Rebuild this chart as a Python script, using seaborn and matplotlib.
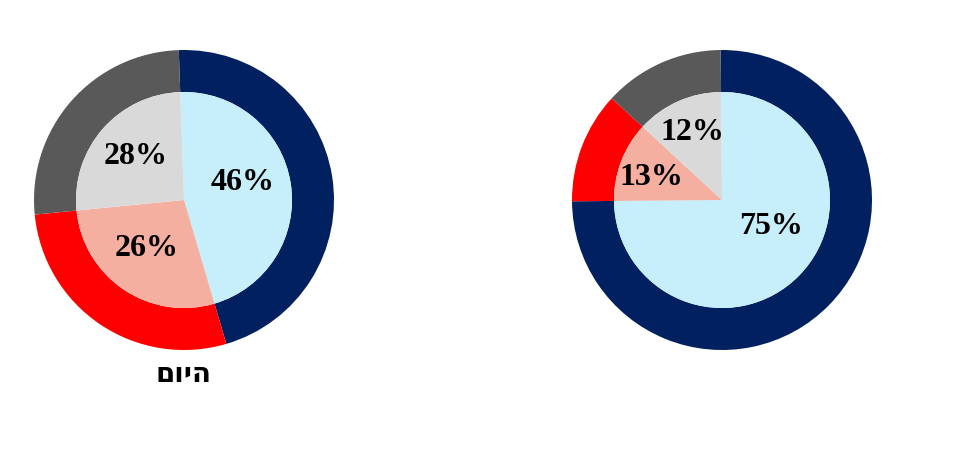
"""Two nested pie charts: outer ring and inner pie per scenario."""

import matplotlib.pyplot as plt
import seaborn as sns

# Shares as drawn (navy/light-blue, red/salmon, dark-gray/light-gray)
LEFT_SHARES = [46, 28, 26]
RIGHT_SHARES = [75, 12, 13]

# Label texts as printed on each inner slice
LEFT_LABELS = ["46%", "26%", "28%"]
RIGHT_LABELS = ["75%", "13%", "12%"]

LEFT_TITLE = "היום"

OUTER_COLORS = ["#002060", "#FF0000", "#595959"]
INNER_COLORS = ["#C7EEFB", "#F4AFA0", "#D9D9D9"]

# Label anchors in pie units (outer radius = 1)
LEFT_LABEL_XY = [(0.39, 0.12), (-0.25, -0.32), (-0.32, 0.29)]
RIGHT_LABEL_XY = [(0.33, -0.18), (-0.47, 0.15), (-0.20, 0.45)]

W, H = 978, 450
OUTER_R = 1.0
INNER_R = 0.72


def draw_nested(ax, shares, labels, label_xy, start):
    ax.pie(shares, radius=OUTER_R, colors=OUTER_COLORS, startangle=start,
           counterclock=False, wedgeprops=dict(width=OUTER_R - INNER_R, linewidth=0))
    ax.pie(shares, radius=INNER_R, colors=INNER_COLORS, startangle=start,
           counterclock=False, wedgeprops=dict(linewidth=0))
    for text, (x, y) in zip(labels, label_xy):
        ax.text(x, y, text, ha="center", va="center", fontsize=23,
                fontweight="bold", family="Liberation Serif", color="black")
    ax.set_xlim(-1, 1)
    ax.set_ylim(-1, 1)
    ax.set_aspect("equal")
    ax.axis("off")


sns.set_style("white")
plt.rcParams["font.family"] = ["DejaVu Sans"]

fig = plt.figure(figsize=(W / 100, H / 100), dpi=100)

# pie boxes placed from pixel positions
left_ax = fig.add_axes([34 / W, (H - 350) / H, 300 / W, 300 / H])
right_ax = fig.add_axes([572 / W, (H - 350) / H, 300 / W, 300 / H])

draw_nested(left_ax, LEFT_SHARES, LEFT_LABELS, LEFT_LABEL_XY, start=92)
draw_nested(right_ax, RIGHT_SHARES, RIGHT_LABELS, RIGHT_LABEL_XY, start=90.5)

# matplotlib has no bidi support, so reverse the Hebrew text for display
fig.text(184 / W, 1 - 374 / H, LEFT_TITLE[::-1], ha="center", va="center",
         fontsize=20, fontweight="bold", family="DejaVu Sans", color="black")

fig.savefig("out.png", dpi=100)
